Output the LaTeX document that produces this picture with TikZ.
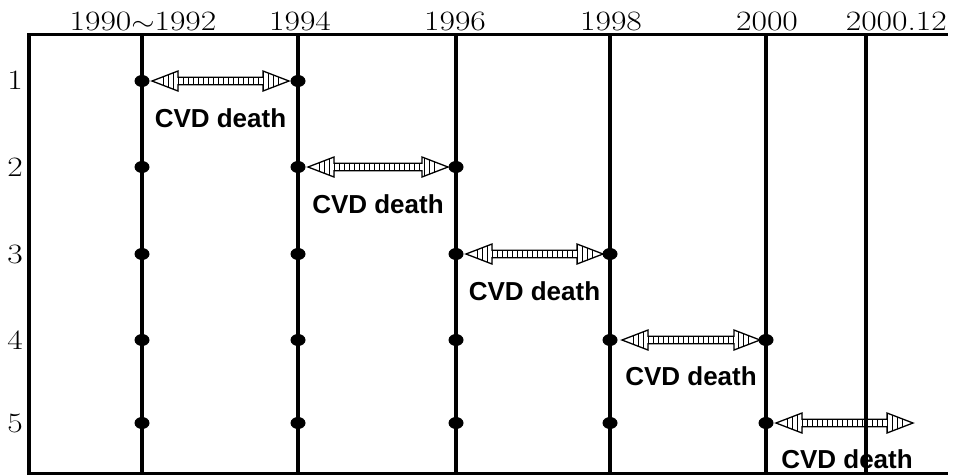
\documentclass[tikz,border=0pt]{standalone}
\usepackage{fontspec}
\newfontfamily\cvdfont{Liberation Sans}
\usetikzlibrary{shapes.geometric}
\newcommand\yr[1]{\scalebox{1.2}[1]{#1}}
\newcommand\hatcharrow[3]{%
  \pgfmathsetmacro\arA{#1}\pgfmathsetmacro\arB{#2}\pgfmathsetmacro\arY{#3}%
  \pgfmathsetmacro\arHa{\arA+26}\pgfmathsetmacro\arHb{\arB-26}%
  \pgfmathsetmacro\arT{\arY-10}\pgfmathsetmacro\arBt{\arY+10}%
  \pgfmathsetmacro\arSt{\arY-3.7}\pgfmathsetmacro\arSb{\arY+3.7}%
  \pgfmathsetmacro\hs{\arA+11}\pgfmathsetmacro\hn{\arA+16}\pgfmathsetmacro\he{\arB-10}%
  \begin{scope}
    \path[clip] (\arA,\arY) -- (\arHa,\arT) -- (\arHa,\arSt) -- (\arHb,\arSt) -- (\arHb,\arT) -- (\arB,\arY) -- (\arHb,\arBt) -- (\arHb,\arSb) -- (\arHa,\arSb) -- (\arHa,\arBt) -- cycle;
    \fill[white] (\arA,\arT) rectangle (\arB,\arBt);
    \foreach \xx in {\hs,\hn,...,\he} \draw[hatch] (\xx,\arT) -- (\xx,\arBt);
  \end{scope}
  \draw[arrowline] (\arA,\arY) -- (\arHa,\arT) -- (\arHa,\arSt) -- (\arHb,\arSt) -- (\arHb,\arT) -- (\arB,\arY) -- (\arHb,\arBt) -- (\arHb,\arSb) -- (\arHa,\arSb) -- (\arHa,\arBt) -- cycle;
}
\begin{document}
\begin{tikzpicture}[x=1pt,y=-1pt,
  vline/.style={line width=3.5pt},
  dot/.style={ellipse,fill=black,inner sep=0pt,minimum width=15pt,minimum height=12pt},
  year/.style={font=\fontsize{28}{28}\selectfont,anchor=base,inner sep=0pt},
  rowlab/.style={font=\fontsize{28}{28}\selectfont,inner sep=0pt},
  cvd/.style={font=\cvdfont\bfseries\fontsize{26}{26}\selectfont,anchor=base,inner sep=0pt},
  arrowline/.style={line width=1.3pt,line join=miter},
  hatch/.style={line width=0.9pt}]
\useasboundingbox (0,0) rectangle (956,475);
\fill[white] (0,0) rectangle (956,475);
% frame
\draw[line width=2.5pt] (27,34.5) -- (948,34.5);
\draw[line width=4pt] (29,33.5) -- (29,475);
\draw[line width=3pt] (27,473) -- (948,473);
% vertical year lines
\foreach \x in {142,298,456,610,766} \draw[vline] (\x,34) -- (\x,473);
% year labels
\node[year] (y1) at (143,30) {\yr{1990$\sim$1992}};
\node[year] (y2) at (300,30) {\yr{1994}};
\node[year] (y3) at (455,30) {\yr{1996}};
\node[year] (y4) at (611,30) {\yr{1998}};
\node[year] (y5) at (767,30) {\yr{2000}};
\node[year,anchor=base east] (y6) at (947,30) {\yr{2000.12}};
% row labels
\node[rowlab] (r1) at (15,80) {\yr{1}};
\node[rowlab] (r2) at (15,167) {\yr{2}};
\node[rowlab] (r3) at (15,254) {\yr{3}};
\node[rowlab] (r4) at (15,340) {\yr{4}};
\node[rowlab] (r5) at (15,423) {\yr{5}};
% dots
\node[dot] (d11) at (142,81) {};
\node[dot] (d12) at (298,81) {};
\node[dot] (d21) at (142,167) {};
\node[dot] (d22) at (298,167) {};
\node[dot] (d23) at (456,167) {};
\node[dot] (d31) at (142,254) {};
\node[dot] (d32) at (298,254) {};
\node[dot] (d33) at (456,254) {};
\node[dot] (d34) at (610,254) {};
\node[dot] (d41) at (142,340) {};
\node[dot] (d42) at (298,340) {};
\node[dot] (d43) at (456,340) {};
\node[dot] (d44) at (610,340) {};
\node[dot] (d45) at (766,340) {};
\node[dot] (d51) at (142,423) {};
\node[dot] (d52) at (298,423) {};
\node[dot] (d53) at (456,423) {};
\node[dot] (d54) at (610,423) {};
\node[dot] (d55) at (766,423) {};
% arrows
\hatcharrow{152}{289}{81}
\hatcharrow{308}{448}{167}
\hatcharrow{466}{603}{254}
\hatcharrow{622}{760}{340}
\hatcharrow{776}{913}{423}
% labels
\node[cvd] (c1) at (220.5,127) {CVD death};
\node[cvd] (c2) at (378,213) {CVD death};
\node[cvd] (c3) at (534.5,300) {CVD death};
\node[cvd] (c4) at (691,385) {CVD death};
\node[cvd] (c5) at (847,468) {CVD death};
% last year line drawn over the last arrow
\draw[vline] (866,34) -- (866,473);
\end{tikzpicture}
\end{document}
